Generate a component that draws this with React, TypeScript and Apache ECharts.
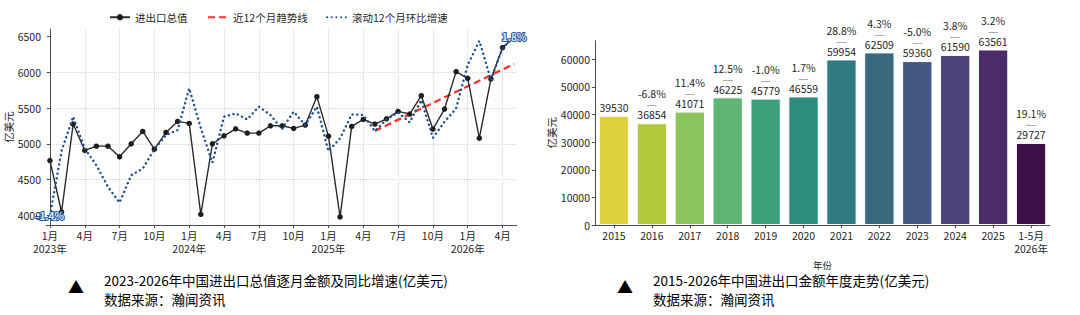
import React, { useEffect, useRef } from 'react';
import * as echarts from 'echarts';

// ---------- Left chart data (monthly, Jan 2023 – May 2026) ----------
const startYear = 2023;
const monthlyTotal = [
  4766, 4047, 5276, 4907, 4967, 4967, 4818, 5000, 5173, 4925, 5159, 5313,
  5285, 4014, 5000, 5112, 5210, 5150, 5150, 5252, 5252, 5215, 5262, 5659,
  5107, 3977, 5243, 5341, 5276, 5350, 5453, 5416, 5673, 5206, 5486, 6009,
  5916, 5079, 5907, 6346, 6495,
];
const rolling12 = [
  4000, 4900, 5379, 4935, 4700, 4397, 4178, 4561, 4654, 4925, 5121, 5192,
  5776, 5220, 4738, 5379, 5425, 5341, 5519, 5402, 5206, 5449, 5262, 5519,
  4897, 5075, 5411, 5402, 5178, 5341, 5439, 5299, 5612, 5084, 5308, 5495,
  6103, 6439, 5893, 6336, 6495,
];
const rollingEndLabels = ['-1.4%', '1.8%'];
const trendIndex = [28, 40];
const trendValues = [5180, 6117];
const leftYTicks = [4000, 4500, 5000, 5500, 6000, 6500];
const leftXTicks = [0, 3, 6, 9, 12, 15, 18, 21, 24, 27, 30, 33, 36, 39];
const seriesNames = ['进出口总值', '近12个月趋势线', '滚动12个月环比增速'];

// ---------- Right chart data (yearly) ----------
const years = ['2015', '2016', '2017', '2018', '2019', '2020', '2021', '2022', '2023', '2024', '2025', '1-5月\n2026年'];
const yearlyValues = [39530, 36854, 41071, 46225, 45779, 46559, 59954, 62509, 59360, 61590, 63561, 29727];
const yearlyGrowth = [null, -6.8, 11.4, 12.5, -1.0, 1.7, 28.8, 4.3, -5.0, 3.8, 3.2, 19.1];
const barColors = ['#dfd03e', '#b2c83a', '#8bc45a', '#5fb672', '#3ca07b', '#2e8c7e', '#2e7a80', '#386a80', '#44587f', '#4b447b', '#4a2c6a', '#3e0f4b'];
const rightYTicks = [0, 10000, 20000, 30000, 40000, 50000, 60000];

const titles = ['2023-2026年中国进出口总值逐月金额及同比增速(亿美元)', '2015-2026年中国进出口金额年度走势(亿美元)'];
const sourceText = '数据来源：瀚闻资讯';

const FONT = '"Noto Sans CJK SC", "Noto Sans", sans-serif';
const TXT = '#262626';
const AXIS = '#4a4a4a';

function monthLabel(i: number): string {
  const y = startYear + Math.floor(i / 12);
  const m = (i % 12) + 1;
  return m === 1 ? `${m}月\n${y}年` : `${m}月`;
}

export default function App() {
  const ref = useRef<HTMLDivElement>(null);
  useEffect(() => {
    if (!ref.current) return;
    const chart = echarts.init(ref.current, undefined, { renderer: 'svg' });
    const last = rolling12.length - 1;
    const legendLefts = [104, 202, 321];
    const legendBase = {
      top: 7,
      itemWidth: 20,
      itemHeight: 8,
      itemGap: 20,
      textStyle: { fontFamily: FONT, fontSize: 10.5, color: TXT },
    };
    const option: any = {
      animation: false,
      textStyle: { fontFamily: FONT, color: TXT },
      legend: [
        { ...legendBase, left: legendLefts[0], data: [seriesNames[0]] },
        { ...legendBase, left: legendLefts[1], data: [{ name: seriesNames[1], itemStyle: { opacity: 0 } }] },
        { ...legendBase, left: legendLefts[2], data: [{ name: seriesNames[2], itemStyle: { opacity: 0 } }] },
      ],
      grid: [
        { left: 46, right: 1080 - 516.7, top: 29, bottom: 90 },
        { left: 595, right: 30, top: 40.7, bottom: 90 },
      ],
      xAxis: [
        {
          type: 'value',
          gridIndex: 0,
          min: -0.34,
          max: 40.22,
          axisLine: { show: true, lineStyle: { color: AXIS, width: 1 } },
          axisTick: { show: true, length: 3, customValues: leftXTicks, lineStyle: { color: AXIS } },
          axisLabel: {
            customValues: leftXTicks,
            formatter: (v: number) => monthLabel(Math.round(v)),
            fontFamily: FONT,
            fontSize: 10.5,
            lineHeight: 13,
            margin: 4,
            color: TXT,
          },
          splitLine: { show: true, lineStyle: { color: '#d6d6d6', type: 'dotted', width: 1 } },
        },
        {
          type: 'category',
          gridIndex: 1,
          data: years,
          axisLine: { show: true, lineStyle: { color: AXIS, width: 1 } },
          axisTick: { show: true, length: 3, alignWithLabel: true, lineStyle: { color: AXIS } },
          axisLabel: { fontFamily: FONT, fontSize: 10.5, lineHeight: 13, margin: 4, color: TXT, interval: 0 },
          name: '年份',
          nameLocation: 'middle',
          nameGap: 31,
          nameTextStyle: { fontFamily: FONT, fontSize: 9.5, color: TXT },
        },
      ],
      yAxis: [
        {
          type: 'value',
          gridIndex: 0,
          min: 3865,
          max: 6605,
          axisLine: { show: true, lineStyle: { color: AXIS, width: 1 } },
          axisTick: { show: true, length: 3, customValues: leftYTicks, lineStyle: { color: AXIS } },
          axisLabel: {
            customValues: leftYTicks,
            formatter: (v: number) => String(v),
            fontFamily: FONT,
            fontSize: 10.5,
            color: TXT,
            margin: 5,
          },
          splitLine: { show: true, showMinLine: false, showMaxLine: false, lineStyle: { color: '#d6d6d6', type: 'dotted', width: 1 } },
          name: '亿美元',
          nameLocation: 'middle',
          nameGap: 29,
          nameTextStyle: { fontFamily: FONT, fontSize: 10.5, color: TXT },
        },
        {
          type: 'value',
          gridIndex: 1,
          min: 0,
          max: 66740,
          axisLine: { show: true, lineStyle: { color: AXIS, width: 1 } },
          axisTick: { show: true, length: 3, customValues: rightYTicks, lineStyle: { color: AXIS } },
          axisLabel: {
            customValues: rightYTicks,
            formatter: (v: number) => String(v),
            fontFamily: FONT,
            fontSize: 10.5,
            color: TXT,
            margin: 5,
          },
          splitLine: { show: false },
          name: '亿美元',
          nameLocation: 'middle',
          nameGap: 38,
          nameTextStyle: { fontFamily: FONT, fontSize: 10.5, color: TXT },
        },
      ],
      series: [
        {
          type: 'line',
          name: seriesNames[0],
          xAxisIndex: 0,
          yAxisIndex: 0,
          data: monthlyTotal.map((v, i) => [i, v]),
          symbol: 'circle',
          symbolSize: 5.5,
          itemStyle: { color: '#1e1e1e' },
          lineStyle: { color: '#2a2a2a', width: 1.4 },
          z: 3,
        },
        {
          type: 'line',
          name: seriesNames[1],
          xAxisIndex: 0,
          yAxisIndex: 0,
          data: trendIndex.map((x, k) => [x, trendValues[k]]),
          symbol: 'none',
          itemStyle: { color: '#f2352b' },
          lineStyle: { color: '#f2352b', width: 2.3, type: [7, 4] },
          z: 2,
        },
        {
          type: 'line',
          name: seriesNames[2],
          xAxisIndex: 0,
          yAxisIndex: 0,
          data: rolling12.map((v, i) => {
            const item: any = { value: [i, v] };
            if (i === 0 || i === last) {
              item.label = {
                show: true,
                position: 'inside',
                formatter: rollingEndLabels[i === 0 ? 0 : 1],
                fontFamily: FONT,
                fontSize: 10,
                fontWeight: 'bold',
                color: '#dbe7f6',
                textBorderColor: '#2257a0',
                textBorderWidth: 2,
              };
            }
            return item;
          }),
          symbol: 'circle',
          symbolSize: 0.01,
          itemStyle: { color: '#1f4e8f' },
          lineStyle: { color: '#1f4e8f', width: 2.4, type: [0.1, 4.6], cap: 'round' },
          z: 4,
        },
        {
          type: 'bar',
          xAxisIndex: 1,
          yAxisIndex: 1,
          barCategoryGap: '20%',
          data: yearlyValues.map((v, i) => ({
            value: v,
            itemStyle: { color: barColors[i], borderColor: '#ffffff', borderWidth: 1 },
          })),
          label: {
            show: true,
            position: 'top',
            distance: 2,
            fontFamily: FONT,
            color: TXT,
            formatter: (p: any) => {
              const g = yearlyGrowth[p.dataIndex];
              return g === null ? `{v|${p.value}}` : `{p|${g.toFixed(1)}%}\n{d|----}\n{v|${p.value}}`;
            },
            rich: {
              p: { fontFamily: FONT, fontSize: 10.5, lineHeight: 12.6, color: TXT },
              d: { fontFamily: FONT, fontSize: 7, lineHeight: 8.4, color: TXT },
              v: { fontFamily: FONT, fontSize: 10.5, lineHeight: 12.6, color: TXT },
            },
          },
        },
      ],
      graphic: [
        { type: 'text', left: 68, top: 278, style: { text: '▲', fontSize: 16, fill: '#000', fontFamily: FONT } },
        { type: 'text', left: 104, top: 273, style: { text: titles[0], fontSize: 13.5, fill: '#000', fontFamily: FONT } },
        { type: 'text', left: 104, top: 292, style: { text: sourceText, fontSize: 13.5, fill: '#000', fontFamily: FONT } },
        { type: 'text', left: 617, top: 278, style: { text: '▲', fontSize: 16, fill: '#000', fontFamily: FONT } },
        { type: 'text', left: 653, top: 273, style: { text: titles[1], fontSize: 13.5, fill: '#000', fontFamily: FONT } },
        { type: 'text', left: 653, top: 292, style: { text: sourceText, fontSize: 13.5, fill: '#000', fontFamily: FONT } },
      ],
    };
    chart.setOption(option);
    return () => chart.dispose();
  }, []);
  return (
    <div
      ref={ref}
      style={{ position: 'fixed', left: 0, top: 0, width: 1080, height: 315, background: '#fff' }}
    />
  );
}
